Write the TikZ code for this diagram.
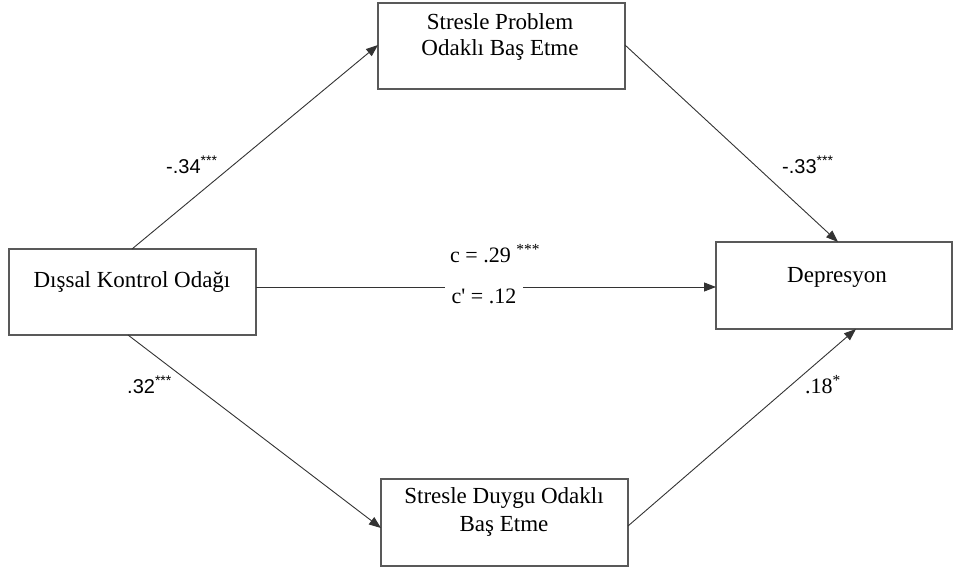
\documentclass[tikz,border=0pt]{standalone}
\usepackage{fontspec}
\setmainfont{Liberation Serif}
\newfontfamily\arialf{Liberation Sans}
\newfontfamily\serifplain{Liberation Serif}
\usetikzlibrary{arrows.meta}
\begin{document}
\begin{tikzpicture}[x=1pt,y=-1pt,
  boxst/.style={draw=black!65,line width=1.3pt,rectangle,inner sep=0pt},
  txt/.style={font=\fontsize{23}{27}\selectfont,anchor=base,inner sep=0pt},
  arr/.style={draw=black!80,line width=0.9pt,-{Triangle[length=12pt,width=9pt]}},
  coef/.style={font=\arialf\fontsize{20}{22}\selectfont,inner sep=0pt,anchor=base west},
  coefs/.style={font=\serifplain\fontsize{22}{24}\selectfont,inner sep=0pt,anchor=base west}]
\useasboundingbox (0,0) rectangle (954,570);
\node[boxst,minimum width=247pt,minimum height=86pt] (top) at (501.5,46) {};
\node[boxst,minimum width=247pt,minimum height=86pt] (left) at (132.5,292) {};
\node[boxst,minimum width=236pt,minimum height=87pt] (right) at (834,285.5) {};
\node[boxst,minimum width=247pt,minimum height=87pt] (bot) at (504.5,522.5) {};
\node[txt] (ttop1) at (500,30) {Stresle Problem};
\node[txt] (ttop2) at (500,56) {Odaklı Baş Etme};
\node[txt] (tleft) at (132,287) {Dışsal Kontrol Odağı};
\node[txt] (tright) at (837,282) {Depresyon};
\node[txt] (tbot1) at (504,503) {Stresle Duygu Odaklı};
\node[txt] (tbot2) at (504,531) {Baş Etme};
\coordinate (l1) at (132,249);
\coordinate (t1) at (378,45);
\coordinate (t2) at (625,45);
\coordinate (r1) at (838,242);
\coordinate (l2) at (128,335);
\coordinate (b1) at (381,528);
\coordinate (b2) at (628,526);
\coordinate (r2) at (856,329);
\coordinate (l3) at (256,287);
\coordinate (r3) at (716,287);
\draw[arr] (l1) -- (t1);
\draw[arr] (t2) -- (r1);
\draw[arr] (l2) -- (b1);
\draw[arr] (b2) -- (r2);
\draw[arr] (l3) -- (r3);
\node[coefs,fill=white,inner xsep=7pt,inner ysep=5pt,anchor=base] (cp) at (484,303) {c' = .12};
\node[coef] (c1) at (166,173) {-.34\textsuperscript{***}};
\node[coef] (c2) at (782,173) {-.33\textsuperscript{***}};
\node[coef] (c3) at (127,393) {.32\textsuperscript{***}};
\node[coefs] (c4) at (805,393) {.18\textsuperscript{*}};
\node[coefs] (cc) at (450,262) {c = .29 \textsuperscript{***}};
\end{tikzpicture}
\end{document}
